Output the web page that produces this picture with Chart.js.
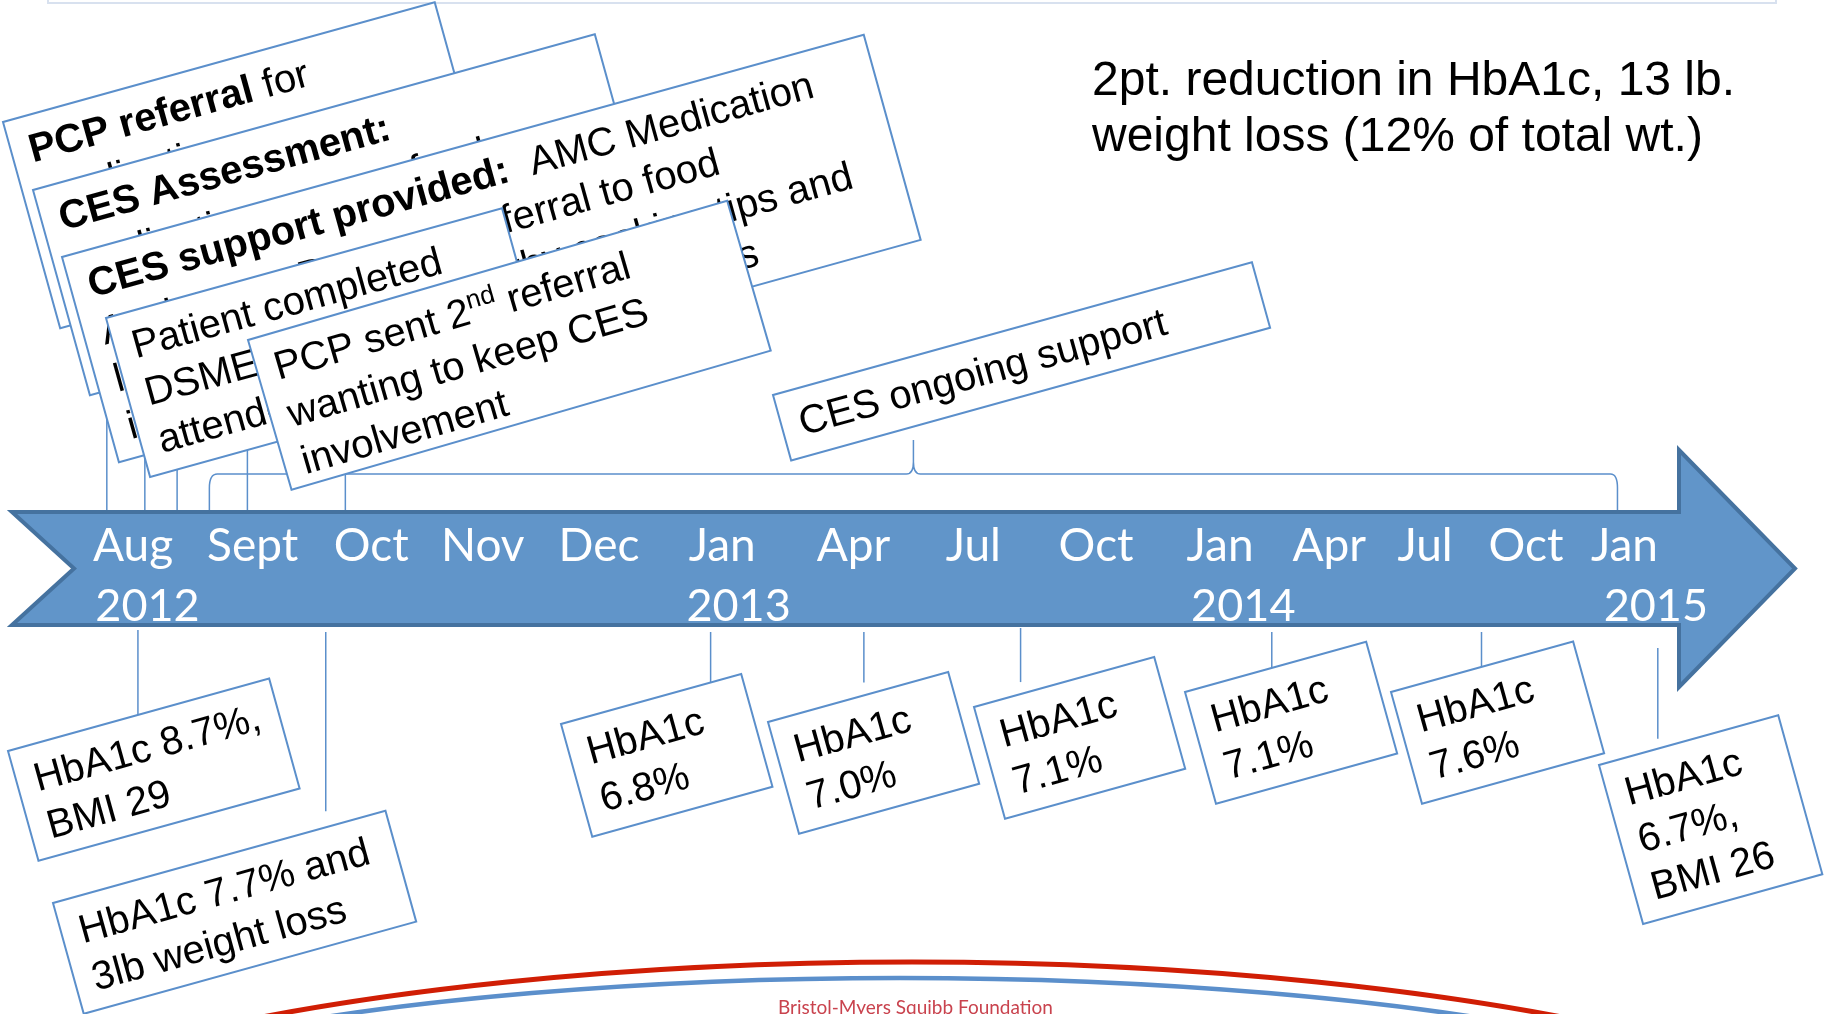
<!DOCTYPE html>
<html>
<head>
<meta charset="utf-8">
<script src="https://cdn.jsdelivr.net/npm/chart.js@4.4.0/dist/chart.umd.min.js"></script>
<style>
  html, body { margin: 0; padding: 0; background: #fff; }
</style>
</head>
<body>
<canvas id="timeline" width="1825" height="1014"></canvas>
<script>
// Timeline is laid out in "slots": Aug 2012 = 0, roughly one slot per label
const monthLabels = ['Aug', 'Sept', 'Oct', 'Nov', 'Dec', 'Jan', 'Apr', 'Jul', 'Oct', 'Jan', 'Apr', 'Jul', 'Oct', 'Jan'];
const monthPos = [0, 0.99, 2.09, 3.02, 4.04, 5.17, 6.28, 7.40, 8.38, 9.49, 10.41, 11.32, 12.11, 13.0];
const yearLabels = ['2012', '2013', '2014', '2015'];
const yearPos = [0.02, 5.15, 9.53, 13.11];

// interventions (above the arrow)  **bold**  ^superscript^
const aboveText = [
  ['**PCP referral** for', 'medication management,', 'nutrition and diabetes', 'education'],
  ['**CES Assessment:**', 'medication access, food', 'insecurity, health literacy,', 'diet and activity'],
  ['**CES support provided:**  AMC Medication', 'Assistance Program, referral to food', 'literacy resources, healthy cooking tips and', 'information on local diabetes classes'],
  ['Patient completed', 'DSME program and', 'attended classes'],
  ['PCP sent 2^nd^ referral', 'wanting to keep CES', 'involvement']
];
const abovePos = [0.12, 0.45, 0.73, 1.34, 2.19];

const ongoingText = ['CES ongoing support'];
const ongoingFrom = 1.01;
const ongoingTo = 13.23;

// results (below the arrow)
const belowText = [
  ['HbA1c 8.7%,', 'BMI 29'],
  ['HbA1c 7.7% and', '3lb weight loss'],
  ['HbA1c', '6.8%'],
  ['HbA1c', '7.0%'],
  ['HbA1c', '7.1%'],
  ['HbA1c', '7.1%'],
  ['HbA1c', '7.6%'],
  ['HbA1c', '6.7%,', 'BMI 26']
];
const belowPos = [0.39, 2.02, 5.36, 6.69, 8.05, 10.23, 12.05, 13.58];

const summaryText = ['2pt. reduction in HbA1c, 13 lb.', 'weight loss (12% of total wt.)'];
const footerText = 'Bristol-Myers Squibb Foundation';

// ---- layout (pixels) ----
const X_MIN = -0.807, X_MAX = 15.031;
const ANG = -15.5;
const BLUE = '#5B8FCB';
const FONT = "'Liberation Sans', Arial, sans-serif";
const LABEL_FONT = "Lato, 'Open Sans', sans-serif";
const LINE_H = 49;

const arrow = { top: 512, bottom: 625, left: 12, notchX: 74, bodyRight: 1679, headTop: 450, headBottom: 687, tipX: 1795 };

const aboveBoxes = [
  { x: 3, y: 122, w: 448, h: 214 },
  { x: 33, y: 190, w: 583, h: 213 },
  { x: 62, y: 257, w: 832, h: 213 },
  { x: 106, y: 318, w: 411, h: 165 },
  { x: 248, y: 340, w: 499, h: 156, a: -16.2 }
];
const ongoingBox = { x: 773, y: 395, w: 497, h: 68 };
const belowBoxes = [
  { x: 8, y: 751, w: 271, h: 114, y0: 630, gap: 0 },
  { x: 53, y: 903, w: 345, h: 115, y0: 632, gap: 16 },
  { x: 561, y: 724, w: 187, h: 117, y0: 632, gap: 0 },
  { x: 768, y: 722, w: 187, h: 116, y0: 632, gap: 13 },
  { x: 974, y: 707, w: 187, h: 116, y0: 628, gap: 12 },
  { x: 1185, y: 692, w: 188, h: 116, y0: 632, gap: 0 },
  { x: 1391, y: 692, w: 189, h: 116, y0: 632, gap: 0 },
  { x: 1599, y: 765, w: 186, h: 165, y0: 648, gap: 10 }
];

function segments(line) {
  return line.split(/(\*\*.+?\*\*|\^.+?\^)/).filter(Boolean).map(s => {
    if (s.startsWith('**')) return { t: s.slice(2, -2), bold: true };
    if (s.startsWith('^')) return { t: s.slice(1, -1), sup: true };
    return { t: s };
  });
}

const rad = b => (b.a !== undefined ? b.a : ANG) * Math.PI / 180;
function topEdgeY(b, px) { return b.y + (px - b.x) * Math.tan(rad(b)); }
function bottomEdgeY(b, px) {
  const r = rad(b);
  const blx = b.x - b.h * Math.sin(r), bly = b.y + b.h * Math.cos(r);
  return bly + (px - blx) * Math.tan(r);
}

function drawBox(ctx, b, lines) {
  ctx.save();
  ctx.translate(b.x, b.y);
  ctx.rotate(rad(b));
  ctx.fillStyle = '#fff';
  ctx.fillRect(0, 0, b.w, b.h);
  ctx.strokeStyle = BLUE;
  ctx.lineWidth = 2;
  ctx.strokeRect(0, 0, b.w, b.h);
  ctx.beginPath();
  ctx.rect(0, 0, b.w, b.h);
  ctx.clip();
  ctx.fillStyle = '#000';
  ctx.textBaseline = 'alphabetic';
  ctx.textAlign = 'left';
  lines.forEach((line, i) => {
    let tx = 18;
    const ty = 47 + i * LINE_H;
    segments(line).forEach(seg => {
      ctx.font = (seg.bold ? 'bold ' : '') + (seg.sup ? '26px ' : '40px ') + FONT;
      ctx.fillText(seg.t, tx, seg.sup ? ty - 15 : ty);
      tx += ctx.measureText(seg.t).width;
    });
  });
  ctx.restore();
}

function line(ctx, x1, y1, x2, y2) {
  ctx.beginPath();
  ctx.moveTo(x1, y1);
  ctx.lineTo(x2, y2);
  ctx.stroke();
}

const timelinePlugin = {
  id: 'timeline',
  beforeDraw(chart) {
    const ctx = chart.ctx;
    ctx.save();
    ctx.fillStyle = '#fff';
    ctx.fillRect(0, 0, chart.width, chart.height);
    ctx.restore();
  },
  afterDatasetsDraw(chart) {
    const ctx = chart.ctx;
    const xs = chart.scales.x;
    ctx.save();

    // faint frame edge at the very top
    ctx.strokeStyle = '#D8E1EF';
    ctx.lineWidth = 2;
    ctx.beginPath();
    ctx.moveTo(48, 0); ctx.lineTo(48, 3); ctx.lineTo(1776, 3); ctx.lineTo(1776, 0);
    ctx.stroke();

    // footer arcs + name
    ctx.lineWidth = 5;
    ctx.strokeStyle = '#D01E05';
    ctx.beginPath(); ctx.ellipse(912, 1247, 1100, 285, 0, Math.PI, 2 * Math.PI); ctx.stroke();
    ctx.lineWidth = 4.5;
    ctx.strokeStyle = BLUE;
    ctx.beginPath(); ctx.ellipse(900, 1193, 1000, 215, 0, Math.PI, 2 * Math.PI); ctx.stroke();
    ctx.fillStyle = '#C9434E';
    ctx.font = '19px ' + LABEL_FONT;
    ctx.fillText(footerText, 778, 1014);

    // connectors
    ctx.strokeStyle = BLUE;
    ctx.lineWidth = 1.5;
    chart.getDatasetMeta(0).data.forEach((p, i) => {
      line(ctx, p.x, arrow.top - 2, p.x, bottomEdgeY(aboveBoxes[i], p.x));
    });
    chart.getDatasetMeta(1).data.forEach((p, i) => {
      const b = belowBoxes[i];
      line(ctx, p.x, b.y0, p.x, topEdgeY(b, p.x) - b.gap);
    });

    // brace for ongoing support
    const br = chart.getDatasetMeta(2).data;
    const bl = br[0].x, brr = br[1].x, bm = (bl + brr) / 2;
    const by = 474, bot = arrow.top - 2;
    ctx.beginPath();
    ctx.moveTo(bl, bot);
    ctx.lineTo(bl, by + 14);
    ctx.quadraticCurveTo(bl, by, bl + 8, by);
    ctx.lineTo(bm - 7, by);
    ctx.quadraticCurveTo(bm, by, bm, by - 12);
    ctx.lineTo(bm, 440);
    ctx.moveTo(bm, by - 12);
    ctx.quadraticCurveTo(bm, by, bm + 7, by);
    ctx.lineTo(brr - 7, by);
    ctx.quadraticCurveTo(brr, by, brr, by + 14);
    ctx.lineTo(brr, bot);
    ctx.stroke();

    // the arrow
    const a = arrow, mid = (a.top + a.bottom) / 2;
    ctx.beginPath();
    ctx.moveTo(a.left, a.top);
    ctx.lineTo(a.bodyRight, a.top);
    ctx.lineTo(a.bodyRight, a.headTop);
    ctx.lineTo(a.tipX, mid);
    ctx.lineTo(a.bodyRight, a.headBottom);
    ctx.lineTo(a.bodyRight, a.bottom);
    ctx.lineTo(a.left, a.bottom);
    ctx.lineTo(a.notchX, mid);
    ctx.closePath();
    ctx.fillStyle = '#6195C9';
    ctx.fill();
    ctx.strokeStyle = '#45729F';
    ctx.lineWidth = 4;
    ctx.lineJoin = 'miter';
    ctx.stroke();

    // month + year labels on the arrow
    ctx.fillStyle = '#fff';
    ctx.textAlign = 'left';
    ctx.font = '46px ' + LABEL_FONT;
    monthLabels.forEach((m, i) => ctx.fillText(m, xs.getPixelForValue(monthPos[i]), 561));
    ctx.font = '45px ' + LABEL_FONT;
    yearLabels.forEach((y, i) => ctx.fillText(y, xs.getPixelForValue(yearPos[i]), 621));

    // event boxes
    aboveBoxes.forEach((b, i) => drawBox(ctx, b, aboveText[i]));
    drawBox(ctx, ongoingBox, ongoingText);
    belowBoxes.forEach((b, i) => drawBox(ctx, b, belowText[i]));

    // summary
    ctx.fillStyle = '#000';
    ctx.font = '48px ' + FONT;
    ctx.textAlign = 'left';
    summaryText.forEach((t, i) => ctx.fillText(t, 1092, 95 + i * 56));

    ctx.restore();
  }
};

new Chart(document.getElementById('timeline'), {
  type: 'scatter',
  data: {
    datasets: [
      { label: 'Interventions', data: abovePos.map(x => ({ x, y: 1 })), pointRadius: 0 },
      { label: 'Results', data: belowPos.map(x => ({ x, y: -1 })), pointRadius: 0 },
      { label: 'CES ongoing support', data: [{ x: ongoingFrom, y: 1 }, { x: ongoingTo, y: 1 }], pointRadius: 0 }
    ]
  },
  options: {
    responsive: false,
    animation: false,
    events: [],
    layout: { padding: 0 },
    plugins: { legend: { display: false }, tooltip: { enabled: false } },
    scales: {
      x: { type: 'linear', display: false, min: X_MIN, max: X_MAX },
      y: { type: 'linear', display: false, min: -2, max: 2 }
    }
  },
  plugins: [timelinePlugin]
});
</script>
</body>
</html>
